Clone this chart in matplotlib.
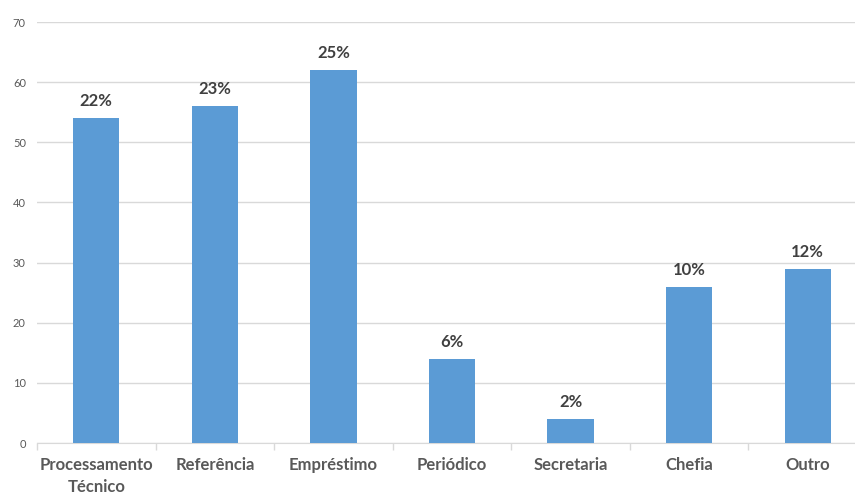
import matplotlib.pyplot as plt
from matplotlib.ticker import FixedLocator, NullFormatter
import numpy as np

categories = ["Processamento\nTécnico", "Referência", "Empréstimo", "Periódico",
              "Secretaria", "Chefia", "Outro"]
counts = [54, 56, 62, 14, 4, 26, 29]
percent_labels = ["22%", "23%", "25%", "6%", "2%", "10%", "12%"]

plt.rcParams['font.family'] = ['Lato', 'DejaVu Sans']

fig = plt.figure(figsize=(8.55, 4.96), dpi=100)
ax = fig.add_axes([37 / 855, 1 - 443 / 496, 830 / 855, 421 / 496])

x = np.arange(len(categories))
bars = ax.bar(x, counts, width=0.39, color="#5b9bd5", zorder=3)

for rect, lab in zip(bars, percent_labels):
    ax.annotate(lab, (rect.get_x() + rect.get_width() / 2, rect.get_height()),
                xytext=(0, 6.5), textcoords="offset points", ha="center", va="bottom",
                fontsize=12, fontweight="bold", color="#404040")

ax.set_xlim(-0.5, len(categories) - 0.5)
ax.set_ylim(0, 70)
ax.set_yticks(range(0, 71, 10))
ax.yaxis.grid(True, color="#d9d9d9", linewidth=1, zorder=0)
ax.tick_params(axis="y", length=0, labelsize=8, labelcolor="#595959", pad=8)

ax.set_xticks(x)
ax.set_xticklabels(categories, fontsize=12, fontweight="bold", color="#595959",
                   linespacing=1.45)
ax.tick_params(axis="x", which="major", length=0, pad=10)
ax.xaxis.set_minor_locator(FixedLocator(np.arange(-0.5, len(categories), 1)))
ax.xaxis.set_minor_formatter(NullFormatter())
ax.tick_params(axis="x", which="minor", length=5, color="#d9d9d9", width=1)

for side in ["top", "right", "left"]:
    ax.spines[side].set_visible(False)
ax.spines["bottom"].set_color("#d9d9d9")

fig.savefig("out.png", dpi=100, facecolor="white")
